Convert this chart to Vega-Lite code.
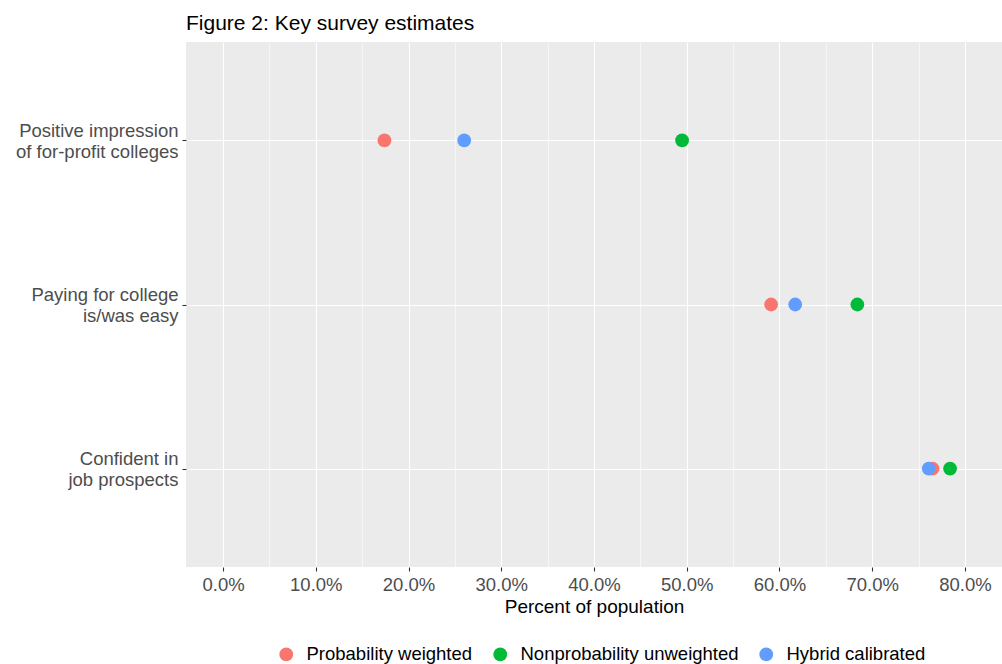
{
  "$schema": "https://vega.github.io/schema/vega-lite/v6.json",
  "autosize": {"type": "none"},
  "width": 816,
  "height": 525,
  "padding": {"left": 186, "top": 42, "right": 0, "bottom": 97},
  "background": "white",
  "title": {
    "text": "Figure 2: Key survey estimates",
    "anchor": "start",
    "frame": "group",
    "font": "Liberation Sans",
    "fontSize": 21,
    "fontWeight": "normal",
    "color": "black",
    "baseline": "alphabetic",
    "offset": -9
  },
  "config": {
    "view": {"fill": "#EBEBEB", "stroke": null},
    "font": "Liberation Sans"
  },
  "data": {
    "values": [
      {"measure": "Positive impression of for-profit colleges", "estimate": "Probability weighted", "pct": 17.4},
      {"measure": "Positive impression of for-profit colleges", "estimate": "Nonprobability unweighted", "pct": 49.5},
      {"measure": "Positive impression of for-profit colleges", "estimate": "Hybrid calibrated", "pct": 26.0},
      {"measure": "Paying for college is/was easy", "estimate": "Probability weighted", "pct": 59.1},
      {"measure": "Paying for college is/was easy", "estimate": "Nonprobability unweighted", "pct": 68.4},
      {"measure": "Paying for college is/was easy", "estimate": "Hybrid calibrated", "pct": 61.7},
      {"measure": "Confident in job prospects", "estimate": "Probability weighted", "pct": 76.5},
      {"measure": "Confident in job prospects", "estimate": "Nonprobability unweighted", "pct": 78.4},
      {"measure": "Confident in job prospects", "estimate": "Hybrid calibrated", "pct": 76.1}
    ]
  },
  "mark": {"type": "circle", "size": 190, "opacity": 1},
  "encoding": {
    "y": {
      "field": "measure",
      "type": "nominal",
      "sort": ["Positive impression of for-profit colleges", "Paying for college is/was easy", "Confident in job prospects"],
      "scale": {"type": "point", "padding": 0.6},
      "axis": {
        "title": null,
        "domain": false,
        "grid": true,
        "gridColor": "white",
        "gridWidth": 1.1,
        "tickSize": 4,
        "tickColor": "#333333",
        "tickWidth": 1.1,
        "labelPadding": 4,
        "labelOffset": -10,
        "labelFontSize": 18.5,
        "labelColor": "#4D4D4D",
        "labelLineHeight": 21,
        "labelLimit": 400,
        "labelExpr": "datum.label == 'Positive impression of for-profit colleges' ? ['Positive impression', 'of for-profit colleges'] : datum.label == 'Paying for college is/was easy' ? ['Paying for college', 'is/was easy'] : ['Confident in', 'job prospects']"
      }
    },
    "x": {
      "field": "pct",
      "type": "quantitative",
      "scale": {"domain": [-4, 84], "nice": false, "zero": false},
      "axis": {
        "title": "Percent of population",
        "titleFontSize": 19,
        "titleFontWeight": "normal",
        "titleColor": "black",
        "titlePadding": 4,
        "values": [0, 5, 10, 15, 20, 25, 30, 35, 40, 45, 50, 55, 60, 65, 70, 75, 80],
        "labelExpr": "datum.value % 10 == 0 ? format(datum.value, '.1f') + '%' : ''",
        "domain": false,
        "grid": true,
        "gridColor": "white",
        "gridWidth": {"condition": {"test": "datum.value % 10 != 0", "value": 0.55}, "value": 1.1},
        "tickSize": 4,
        "tickColor": "#333333",
        "tickWidth": 1.1,
        "tickOpacity": {"condition": {"test": "datum.value % 10 != 0", "value": 0}, "value": 1},
        "labelPadding": 4,
        "labelFontSize": 18.5,
        "labelColor": "#4D4D4D",
        "labelFlush": false,
        "labelOverlap": false
      }
    },
    "color": {
      "field": "estimate",
      "type": "nominal",
      "scale": {
        "domain": ["Probability weighted", "Nonprobability unweighted", "Hybrid calibrated"],
        "range": ["#F8766D", "#00BA38", "#619CFF"]
      },
      "legend": {
        "title": null,
        "orient": "none",
        "direction": "horizontal",
        "legendX": 91,
        "legendY": 603,
        "symbolType": "circle",
        "symbolSize": 190,
        "symbolOpacity": 1,
        "symbolStrokeWidth": 0,
        "labelFontSize": 18.5,
        "labelColor": "black",
        "labelOffset": 11,
        "labelLimit": 400,
        "columnPadding": 18
      }
    }
  }
}
